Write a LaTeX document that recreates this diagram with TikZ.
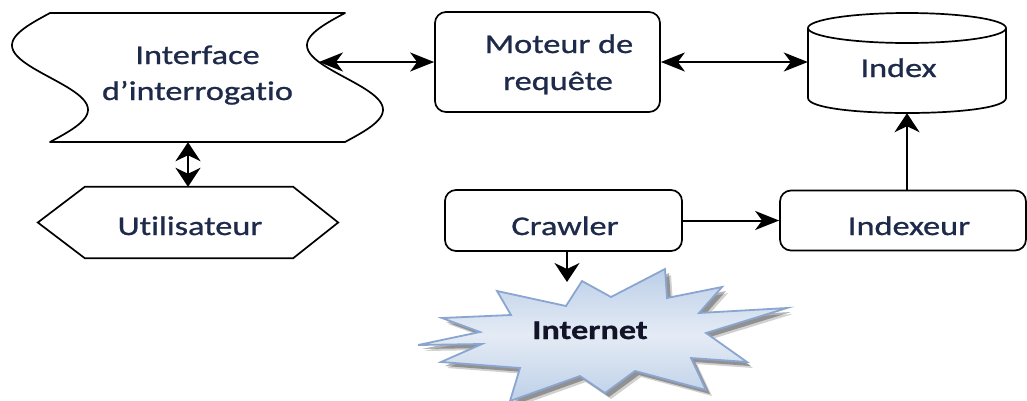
\documentclass[tikz,border=0pt]{standalone}
\usepackage{fontspec}
\setmainfont{Carlito}[FakeStretch=1.27, FakeBold=0.9, Ligatures=NoCommon]
\usetikzlibrary{arrows.meta}

\definecolor{ink}{HTML}{1E2A4A}
\definecolor{netink}{HTML}{141428}
\definecolor{burstedge}{HTML}{8AA6D0}
\definecolor{bursttop}{HTML}{BCCFE8}
\definecolor{burstmid}{HTML}{E4EBF5}
\definecolor{burstbot}{HTML}{BED0E8}

\tikzset{
  harr/.tip={Stealth[length=24pt,width=19pt,inset=7pt]},
  varr/.tip={Stealth[length=19pt,width=25pt,inset=6pt]},
  outline/.style={draw=black, line width=1.7pt},
  box/.style={outline, rounded corners=11pt, inner sep=0pt},
  frame/.style={inner sep=0pt},
  link/.style={draw=black, line width=2pt},
  hboth/.style={link, harr-harr},
  vboth/.style={link, varr-varr},
  hto/.style={link, -harr},
  vto/.style={link, -varr},
  txt/.style={font=\fontsize{27}{36}\selectfont, text=ink, inner sep=0pt, anchor=base}
}

\begin{document}
\begin{tikzpicture}[x=1pt, y=-1pt]
  \fill[white] (0,0) rectangle (1027,400);
  \useasboundingbox (0,0) rectangle (1027,400);

  % query interface: a tape with wavy left and right sides
  \node[frame, minimum width=295pt, minimum height=129pt] (ifc) at (197.5,77.5) {};
  \draw[outline, line join=round]
    plot[domain=0:129, samples=60, smooth] ({50-38*sin(\x/129*360)},{13+\x})
    -- plot[domain=129:0, samples=60, smooth] ({345-38*sin(\x/129*360)},{13+\x})
    -- cycle;
  \coordinate (ifr) at ({345-38*sin(49/129*360)},62);

  % user: hexagon
  \node[frame, minimum width=300pt, minimum height=71pt] (usr) at (188,222.5) {};
  \draw[outline, line join=miter]
    (usr.west) -- ([xshift=47pt]usr.north west) -- ([xshift=-45pt]usr.north east)
    -- (usr.east) -- ([xshift=-45pt]usr.south east) -- ([xshift=47pt]usr.south west)
    -- cycle;

  % processing boxes
  \node[box, minimum width=225pt, minimum height=100pt] (mot) at (547.5,62) {};
  \node[box, minimum width=237pt, minimum height=61pt] (crw) at (563.5,220.5) {};
  \node[box, minimum width=246pt, minimum height=60pt] (ixr) at (903,220.5) {};

  % index: cylinder
  \node[frame, minimum width=198pt, minimum height=100pt] (idx) at (907,63) {};
  \draw[outline, fill=white] (808,28) -- (808,98) .. controls (808,118) and (1006,118) .. (1006,98) -- (1006,28);
  \draw[outline] (907,28) ellipse [x radius=99, y radius=15];

  % internet: explosion shape with a soft shadow
  \def\burst{(497,291) -- (566,306) -- (582,281) -- (611,297) -- (665,269) -- (667,298)
    -- (722,287) -- (699,313) -- (787,308) -- (706,333) -- (747,362) -- (691,358)
    -- (706,390) -- (635,371) -- (605,393) -- (580,376) -- (510,401) -- (520,368)
    -- (441,362) -- (482,344) -- (418,345) -- (480,332) -- (442,318) -- (511,315) -- cycle}
  \fill[black, opacity=0.18, shift={(6,6)}] \burst;
  \fill[black, opacity=0.30, shift={(4,4)}] \burst;
  \path[draw=burstedge, line width=1.8pt, line join=miter,
        top color=bursttop, bottom color=burstbot, middle color=burstmid] \burst;
  \coordinate (nettop) at (567,282);

  % labels
  \node[txt] (ifc-a) at (197.5,64) {Interface};
  \node[txt] (ifc-b) at (197.5,100) {d’interrogatio};
  \node[txt] (usr-t) at (190,235) {Utilisateur};
  \node[txt] (mot-a) at (559,53) {Moteur de};
  \node[txt] (mot-b) at (558,90) {requête};
  \node[txt] (idx-t) at (898.5,77) {Index};
  \node[txt] (crw-t) at (565,235) {Crawler};
  \node[txt] (ixr-t) at (909,235) {Indexeur};
  \node[txt, font=\fontsize{27}{36}\selectfont\bfseries, text=netink] (net-t) at (590,339) {Internet};

  % connectors
  \draw[hboth] (ifr) -- (mot.west);
  \draw[hboth] (mot.east) -- (mot.east -| idx.west);
  \draw[vboth] (ifc.south -| usr.north) -- (usr.north);
  \draw[hto] (crw.east) -- (ixr.west);
  \draw[vto] (idx.south |- ixr.north) -- (idx.south);
  \draw[vto] (crw.south -| nettop) -- (nettop);
\end{tikzpicture}
\end{document}
